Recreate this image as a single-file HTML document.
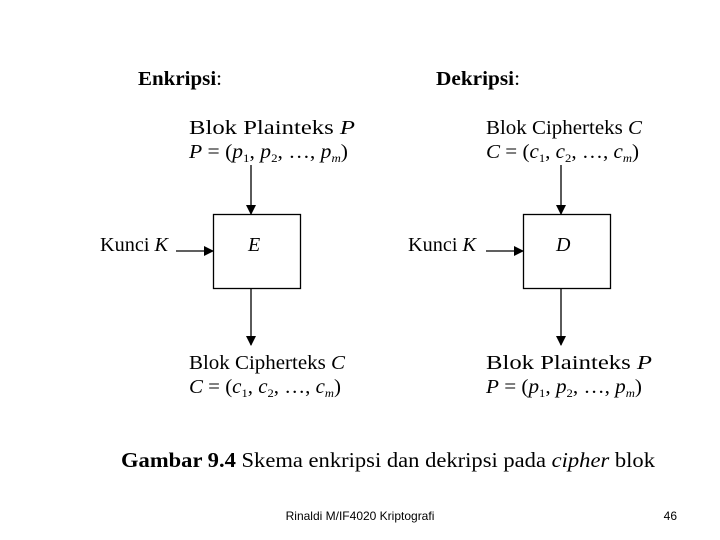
<!DOCTYPE html>
<html><head><meta charset="utf-8"><style>
html,body{margin:0;padding:0;background:#fff;width:720px;height:540px;overflow:hidden}
svg{display:block}
text{font-family:"Liberation Serif",serif;fill:#000}
</style></head><body>
<svg width="720" height="540" viewBox="0 0 720 540" xmlns="http://www.w3.org/2000/svg">
<defs><marker id="a" markerWidth="10" markerHeight="10" refX="9" refY="5" orient="auto" markerUnits="userSpaceOnUse"><path d="M0,0 L10,5 L0,10 z" fill="#000"/></marker></defs>
<g font-size="20">
<text x="138" y="85" font-weight="bold" textLength="84" lengthAdjust="spacingAndGlyphs">Enkripsi<tspan font-weight="normal">:</tspan></text>
<text x="436" y="85" font-weight="bold" textLength="84" lengthAdjust="spacingAndGlyphs">Dekripsi<tspan font-weight="normal">:</tspan></text>

<text x="189" y="134" textLength="166" lengthAdjust="spacingAndGlyphs">Blok Plainteks <tspan font-style="italic">P</tspan></text>
<text x="189" y="158" textLength="159" lengthAdjust="spacingAndGlyphs"><tspan font-style="italic">P</tspan> = (<tspan font-style="italic">p</tspan><tspan font-size="12" dy="4">1</tspan><tspan dy="-4">, </tspan><tspan font-style="italic">p</tspan><tspan font-size="12" dy="4">2</tspan><tspan dy="-4">, …, </tspan><tspan font-style="italic">p</tspan><tspan font-size="12" dy="4" font-style="italic">m</tspan><tspan dy="-4">)</tspan></text>
<text x="100" y="251" textLength="68" lengthAdjust="spacingAndGlyphs">Kunci <tspan font-style="italic">K</tspan></text>
<text x="248" y="251" font-style="italic">E</text>
<text x="189" y="369" textLength="156" lengthAdjust="spacingAndGlyphs">Blok Cipherteks <tspan font-style="italic">C</tspan></text>
<text x="189" y="393" textLength="152" lengthAdjust="spacingAndGlyphs"><tspan font-style="italic">C</tspan> = (<tspan font-style="italic">c</tspan><tspan font-size="12" dy="4">1</tspan><tspan dy="-4">, </tspan><tspan font-style="italic">c</tspan><tspan font-size="12" dy="4">2</tspan><tspan dy="-4">, …, </tspan><tspan font-style="italic">c</tspan><tspan font-size="12" dy="4" font-style="italic">m</tspan><tspan dy="-4">)</tspan></text>

<text x="486" y="134" textLength="156" lengthAdjust="spacingAndGlyphs">Blok Cipherteks <tspan font-style="italic">C</tspan></text>
<text x="486" y="158" textLength="153" lengthAdjust="spacingAndGlyphs"><tspan font-style="italic">C</tspan> = (<tspan font-style="italic">c</tspan><tspan font-size="12" dy="4">1</tspan><tspan dy="-4">, </tspan><tspan font-style="italic">c</tspan><tspan font-size="12" dy="4">2</tspan><tspan dy="-4">, …, </tspan><tspan font-style="italic">c</tspan><tspan font-size="12" dy="4" font-style="italic">m</tspan><tspan dy="-4">)</tspan></text>
<text x="408" y="251" textLength="68" lengthAdjust="spacingAndGlyphs">Kunci <tspan font-style="italic">K</tspan></text>
<text x="556" y="251" font-style="italic">D</text>
<text x="486" y="369" textLength="166" lengthAdjust="spacingAndGlyphs">Blok Plainteks <tspan font-style="italic">P</tspan></text>
<text x="486" y="393" textLength="156" lengthAdjust="spacingAndGlyphs"><tspan font-style="italic">P</tspan> = (<tspan font-style="italic">p</tspan><tspan font-size="12" dy="4">1</tspan><tspan dy="-4">, </tspan><tspan font-style="italic">p</tspan><tspan font-size="12" dy="4">2</tspan><tspan dy="-4">, …, </tspan><tspan font-style="italic">p</tspan><tspan font-size="12" dy="4" font-style="italic">m</tspan><tspan dy="-4">)</tspan></text>
</g>
<g stroke="#000" stroke-width="1.3" fill="none">
<rect x="213.5" y="214.5" width="87" height="74"/>
<rect x="523.5" y="214.5" width="87" height="74"/>
<line x1="251" y1="165" x2="251" y2="214" marker-end="url(#a)"/>
<line x1="251" y1="289" x2="251" y2="345" marker-end="url(#a)"/>
<line x1="176" y1="251" x2="213" y2="251" marker-end="url(#a)"/>
<line x1="561" y1="165" x2="561" y2="214" marker-end="url(#a)"/>
<line x1="561" y1="289" x2="561" y2="345" marker-end="url(#a)"/>
<line x1="486" y1="251" x2="523" y2="251" marker-end="url(#a)"/>
</g>
<text x="121" y="467" font-size="21" textLength="534" lengthAdjust="spacingAndGlyphs"><tspan font-weight="bold">Gambar 9.4</tspan>   Skema enkripsi dan dekripsi pada <tspan font-style="italic">cipher</tspan> blok</text>
<text x="360" y="520" font-size="12" text-anchor="middle" style="font-family:'Liberation Sans',sans-serif">Rinaldi M/IF4020 Kriptografi</text>
<text x="677" y="520" font-size="12" text-anchor="end" style="font-family:'Liberation Sans',sans-serif">46</text>
</svg>
</body></html>
